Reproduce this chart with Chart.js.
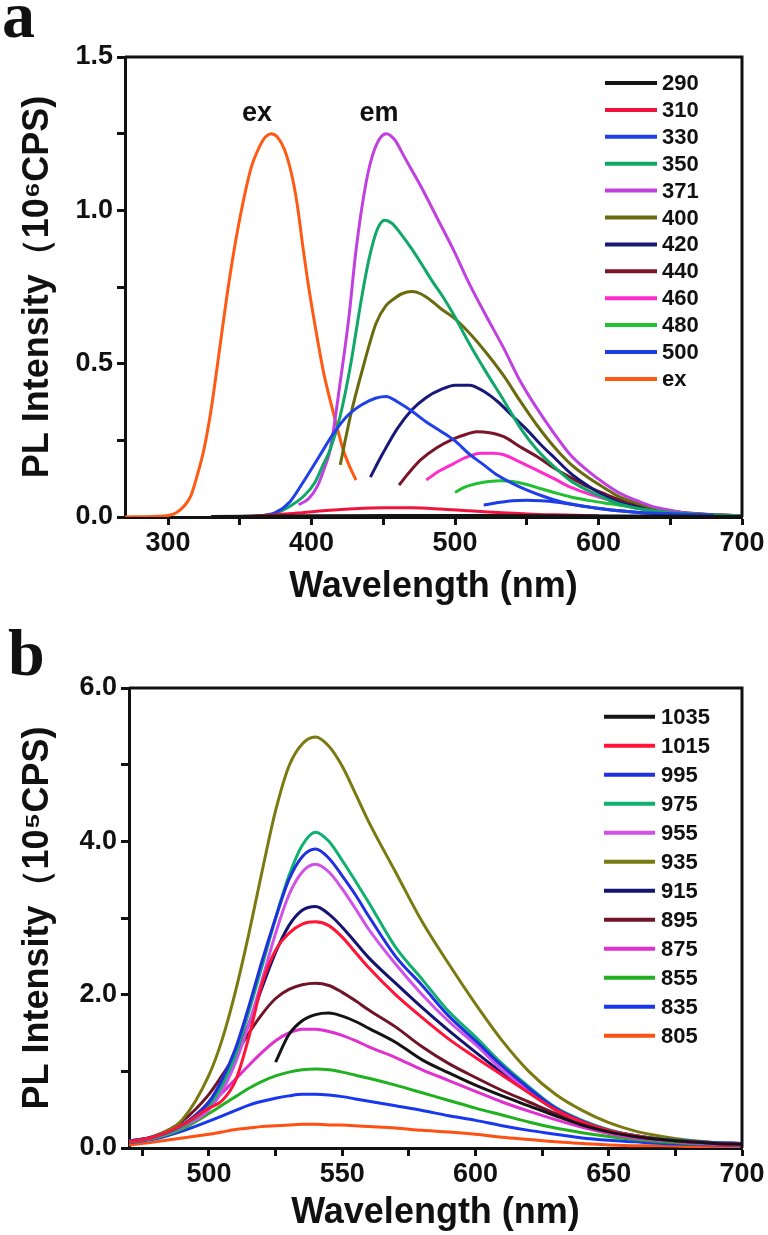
<!DOCTYPE html>
<html lang="en">
<head>
<meta charset="UTF-8">
<title>PL spectra</title>
<script src="https://cdn.jsdelivr.net/npm/chart.js"></script>
<style>
    body {
        margin: 0;
        background: #fff;
        width: 768px;
        height: 1235px;
        position: relative;
        overflow: hidden;
    }
    canvas {
        position: absolute;
        left: 0;
    }
    #chartA { top: 0; }
    #chartB { top: 615px; }
</style>
</head>
<body>
<canvas id="chartA" width="768" height="615"></canvas>
<canvas id="chartB" width="768" height="620"></canvas>

<script>
// ---------- Panel a : [wavelength nm, intensity 10^6 CPS] ----------
const a290 = [[330,0.002],[400,0.004],[460,0.005],[520,0.005],[580,0.004],[640,0.003],[700,0.002]];
const a310 = [[330,0],[350,0.002],[370,0.006],[390,0.013],[410,0.021],[430,0.027],[450,0.03],[470,0.03],[490,0.026],[510,0.02],[530,0.015],[550,0.01],[570,0.007],[600,0.004]];
const a330 = [[350,0],[365,0.004],[375,0.015],[385,0.05],[395,0.12],[405,0.195],[415,0.27],[425,0.33],[435,0.366],[445,0.388],[452,0.393],[460,0.375],[470,0.345],[480,0.31],[490,0.28],[500,0.248],[510,0.205],[520,0.17],[530,0.135],[545,0.098],[560,0.07],[575,0.048],[590,0.035],[610,0.022],[640,0.012],[680,0.007]];
const a350 = [[350,0],[365,0.004],[375,0.012],[385,0.035],[395,0.07],[402,0.11],[408,0.17],[413,0.22],[420,0.33],[427,0.49],[434,0.69],[440,0.84],[446,0.94],[451,0.968],[456,0.958],[462,0.925],[469,0.88],[476,0.83],[484,0.77],[492,0.715],[499,0.66],[510,0.565],[522,0.47],[534,0.38],[545,0.294],[557,0.22],[569,0.164],[580,0.12],[592,0.088],[604,0.062],[615,0.042],[630,0.026],[650,0.015],[675,0.008],[700,0.004]];
const a371 = [[391,0.04],[398,0.06],[404,0.1],[409,0.16],[413,0.22],[420,0.44],[426,0.65],[431,0.87],[438,1.09],[444,1.2],[452,1.25],[458,1.23],[464,1.18],[470,1.13],[476,1.08],[487,0.98],[499,0.87],[510,0.76],[522,0.653],[534,0.55],[545,0.447],[557,0.355],[569,0.273],[580,0.205],[592,0.153],[604,0.11],[615,0.077],[627,0.053],[638,0.034],[650,0.022],[662,0.012],[680,0.007],[700,0.004]];
const a400 = [[420,0.17],[427,0.327],[436,0.49],[445,0.632],[452,0.69],[457,0.71],[463,0.728],[470,0.735],[476,0.728],[483,0.707],[490,0.68],[499,0.65],[510,0.6],[522,0.534],[534,0.46],[545,0.381],[557,0.3],[569,0.229],[580,0.175],[592,0.131],[604,0.095],[615,0.065],[627,0.045],[638,0.03],[650,0.02],[662,0.012],[680,0.007],[700,0.004]];
const a420 = [[441,0.13],[450,0.21],[460,0.29],[470,0.35],[480,0.39],[490,0.415],[500,0.43],[510,0.43],[520,0.41],[530,0.375],[540,0.33],[550,0.285],[560,0.235],[570,0.19],[580,0.145],[590,0.11],[600,0.08],[610,0.056],[620,0.04],[640,0.02],[660,0.01],[700,0.004]];
const a440 = [[461,0.104],[468,0.145],[476,0.186],[487,0.225],[499,0.255],[508,0.27],[515,0.278],[524,0.275],[534,0.262],[545,0.23],[557,0.197],[569,0.16],[580,0.13],[592,0.1],[604,0.076],[615,0.056],[627,0.04],[638,0.028],[650,0.02],[665,0.012],[680,0.007],[700,0.004]];
const a460 = [[480,0.121],[489,0.15],[499,0.174],[508,0.195],[518,0.208],[526,0.208],[534,0.203],[545,0.18],[557,0.153],[569,0.125],[580,0.098],[592,0.077],[604,0.06],[615,0.044],[627,0.03],[640,0.02],[655,0.012],[670,0.008],[690,0.005]];
const a480 = [[500,0.08],[506,0.096],[511,0.104],[520,0.113],[531,0.118],[540,0.116],[550,0.106],[560,0.092],[569,0.08],[580,0.066],[592,0.055],[604,0.046],[615,0.038],[627,0.028],[638,0.02],[650,0.014],[665,0.009],[680,0.006]];
const a500 = [[520,0.039],[530,0.047],[540,0.053],[550,0.055],[560,0.053],[570,0.049],[580,0.042],[592,0.033],[604,0.026],[615,0.02],[630,0.014],[650,0.009],[680,0.005]];
const aEx  = [[270,0],[290,0.002],[300,0.005],[306,0.015],[312,0.04],[316,0.07],[320,0.13],[325,0.22],[330,0.35],[336,0.55],[341,0.72],[346,0.87],[352,1.02],[358,1.14],[364,1.21],[368,1.24],[372,1.25],[376,1.24],[381,1.2],[386,1.12],[390,1.02],[394,0.88],[398,0.75],[403,0.61],[408,0.48],[413,0.38],[418,0.29],[422,0.22],[427,0.16],[431,0.12]];

const labelsA = ['290','310','330','350','371','400','420','440','460','480','500','ex'];
const seriesA = [a290, a310, a330, a350, a371, a400, a420, a440, a460, a480, a500, aEx];
const colorsA = ['#141414','#f0143c','#2040e8','#10a868','#c040e0','#6a6a0e','#18187a','#7a1428','#ff2ccc','#20c030','#1c3ce8','#ff5a14'];

// ---------- Panel b : intensity (10^5 CPS) on a shared wavelength grid ----------
const wlB = [470,480,490,500,505,510,515,520,525,530,535,540,545,550,555,560,570,580,590,600,610,620,630,640,650,660,670,680,690,700];
const b1035 = [null,null,null,null,null,null,null,null,1.12,1.48,1.66,1.74,1.76,1.72,1.65,1.56,1.38,1.15,0.98,0.82,0.68,0.55,0.42,0.30,0.21,0.15,0.11,0.08,0.06,0.05];
const b1015 = [0.08,0.15,0.30,0.52,0.62,0.88,1.45,2.15,2.58,2.80,2.92,2.95,2.90,2.75,2.55,2.35,2.00,1.70,1.42,1.18,0.95,0.72,0.50,0.34,0.23,0.16,0.11,0.08,0.06,0.05];
const b995  = [0.09,0.15,0.30,0.60,0.90,1.30,1.85,2.45,3.00,3.50,3.80,3.90,3.78,3.55,3.30,3.02,2.50,2.12,1.72,1.40,1.07,0.78,0.52,0.35,0.23,0.16,0.11,0.09,0.07,0.06];
const b975  = [0.09,0.14,0.28,0.55,0.82,1.22,1.78,2.38,3.00,3.55,3.95,4.12,4.00,3.75,3.48,3.20,2.62,2.20,1.78,1.45,1.10,0.80,0.53,0.36,0.24,0.16,0.12,0.09,0.07,0.06];
const b955  = [0.09,0.14,0.27,0.50,0.75,1.12,1.62,2.20,2.80,3.30,3.60,3.70,3.60,3.38,3.12,2.85,2.40,2.00,1.65,1.35,1.02,0.75,0.50,0.34,0.23,0.16,0.11,0.08,0.07,0.06];
const b935  = [0.07,0.16,0.37,0.95,1.42,2.05,2.80,3.62,4.40,4.98,5.27,5.36,5.24,4.98,4.62,4.25,3.60,2.95,2.40,1.88,1.40,1.00,0.70,0.49,0.33,0.22,0.15,0.10,0.07,0.05];
const b915  = [0.09,0.15,0.30,0.60,0.85,1.20,1.62,2.10,2.55,2.90,3.10,3.15,3.05,2.88,2.68,2.48,2.15,1.83,1.53,1.25,0.98,0.73,0.50,0.34,0.23,0.16,0.11,0.08,0.07,0.06];
const b895  = [0.08,0.16,0.35,0.70,0.95,1.22,1.50,1.75,1.95,2.07,2.13,2.15,2.12,2.03,1.92,1.80,1.58,1.32,1.10,0.92,0.75,0.60,0.45,0.32,0.22,0.15,0.11,0.08,0.06,0.05];
const b875  = [0.08,0.14,0.28,0.55,0.72,0.90,1.08,1.25,1.40,1.50,1.55,1.55,1.52,1.47,1.40,1.32,1.18,1.02,0.88,0.74,0.60,0.48,0.37,0.27,0.19,0.13,0.10,0.07,0.05,0.04];
const b855  = [0.08,0.13,0.25,0.45,0.56,0.67,0.78,0.87,0.94,0.99,1.02,1.03,1.02,0.99,0.95,0.91,0.82,0.72,0.62,0.52,0.43,0.34,0.26,0.20,0.15,0.11,0.08,0.06,0.05,0.04];
const b835  = [0.07,0.12,0.22,0.35,0.42,0.49,0.56,0.61,0.65,0.68,0.70,0.70,0.69,0.67,0.64,0.61,0.55,0.49,0.42,0.36,0.29,0.23,0.18,0.13,0.10,0.08,0.06,0.05,0.04,0.03];
const b805  = [0.04,0.08,0.13,0.18,0.21,0.24,0.26,0.28,0.29,0.30,0.31,0.31,0.30,0.30,0.29,0.28,0.26,0.23,0.21,0.18,0.14,0.11,0.08,0.06,0.04,0.03,0.03,0.02,0.02,0.02];

const labelsB = ['1035','1015','995','975','955','935','915','895','875','855','835','805'];
const seriesB = [b1035, b1015, b995, b975, b955, b935, b915, b895, b875, b855, b835, b805];
const colorsB = ['#141414','#ff1438','#2030e0','#10b070','#d050e8','#7a7a10','#141470','#701428','#e030d0','#20b020','#1838f0','#ff5014'];

const FONT = "'Liberation Sans', Arial, sans-serif";
Chart.defaults.font.family = FONT;
Chart.defaults.font.weight = 'bold';
Chart.defaults.color = '#111';

// legend drawn inside the plot, top right, like the original
const spectraLegend = {
    id: 'spectraLegend',
    afterDraw(chart, args, opts) {
        const ctx = chart.ctx;
        ctx.save();
        ctx.font = 'bold 22px ' + FONT;
        ctx.textBaseline = 'middle';
        chart.data.datasets.forEach((ds, i) => {
            const y = opts.top + i * opts.gap;
            ctx.strokeStyle = ds.borderColor;
            ctx.lineWidth = 4;
            ctx.beginPath();
            ctx.moveTo(opts.x0, y);
            ctx.lineTo(opts.x1, y);
            ctx.stroke();
            ctx.fillStyle = '#111';
            ctx.fillText(ds.label, opts.textX, y + 1);
        });
        ctx.restore();
    }
};

// top / right border of the frame, text notes and the panel letter
const frameAndNotes = {
    id: 'frameAndNotes',
    afterDraw(chart, args, opts) {
        const ctx = chart.ctx;
        const area = chart.chartArea;
        ctx.save();
        ctx.strokeStyle = '#111';
        ctx.lineWidth = 3;
        ctx.beginPath();
        ctx.moveTo(area.left, area.top);
        ctx.lineTo(area.right, area.top);
        ctx.lineTo(area.right, area.bottom);
        ctx.stroke();

        ctx.fillStyle = '#111';
        ctx.font = 'bold 27px ' + FONT;
        ctx.textAlign = 'center';
        ctx.textBaseline = 'middle';
        (opts.notes || []).forEach(n => {
            ctx.fillText(n.text, chart.scales.x.getPixelForValue(n.x), chart.scales.y.getPixelForValue(n.y));
        });

        ctx.font = "bold 66px 'Liberation Serif', 'Times New Roman', serif";
        ctx.textAlign = 'left';
        ctx.textBaseline = 'alphabetic';
        ctx.fillText(opts.tag, opts.tagX, opts.tagY);
        ctx.restore();
    }
};

function buildOptions(cfg) {
    const tickFont = { size: 27, weight: 'bold' };
    const titleFont = { size: 36, weight: 'bold', lineHeight: 1 };
    return {
        responsive: false,
        animation: false,
        layout: { padding: { left: 0, top: cfg.top, right: 26, bottom: 0 } },
        elements: {
            point: { radius: 0 },
            line: { borderWidth: 3, cubicInterpolationMode: 'monotone' }
        },
        plugins: {
            legend: { display: false },
            tooltip: { enabled: false },
            spectraLegend: cfg.legend,
            frameAndNotes: { notes: cfg.notes, tag: cfg.tag, tagX: cfg.tagX, tagY: cfg.tagY }
        },
        scales: {
            x: {
                type: 'linear',
                min: cfg.xMin,
                max: cfg.xMax,
                afterFit: s => { s.height = cfg.xHeight; },
                border: { color: '#111', width: 3 },
                grid: { drawOnChartArea: false, tickLength: 8, tickWidth: 3, tickColor: '#111' },
                ticks: {
                    stepSize: cfg.xStep,
                    includeBounds: false,
                    autoSkip: false,
                    maxRotation: 0,
                    padding: 2,
                    font: tickFont,
                    callback: v => (v % cfg.xLabelEvery === 0 ? String(v) : '')
                },
                title: { display: true, text: 'Wavelength (nm)', font: titleFont, padding: { top: 0, bottom: cfg.xTitlePad } }
            },
            y: {
                min: 0,
                max: cfg.yMax,
                afterFit: s => { s.width = cfg.yWidth; },
                border: { color: '#111', width: 3 },
                grid: { drawOnChartArea: false, tickLength: 8, tickWidth: 3, tickColor: '#111' },
                ticks: {
                    stepSize: cfg.yStep,
                    includeBounds: false,
                    autoSkip: false,
                    padding: 4,
                    font: tickFont,
                    callback: v => {
                        const k = v / cfg.yLabelEvery;
                        return Math.abs(k - Math.round(k)) < 1e-6 ? v.toFixed(1) : '';
                    }
                },
                title: { display: true, text: cfg.yTitle, font: titleFont, padding: { top: 20, bottom: 0 } }
            }
        }
    };
}

// Panel a
const dataA = {
    datasets: seriesA.map((pairs, i) => ({
        label: labelsA[i],
        data: pairs.map(p => ({ x: p[0], y: p[1] })),
        borderColor: colorsA[i],
        fill: false
    }))
};
new Chart(document.getElementById('chartA'), {
    type: 'line',
    data: dataA,
    options: buildOptions({
        top: 57, xHeight: 98, xTitlePad: 10, yWidth: 125,
        xMin: 270, xMax: 700, xStep: 50, xLabelEvery: 100,
        yMax: 1.5, yStep: 0.25, yLabelEvery: 0.5,
        yTitle: 'PL Intensity（10⁶CPS)',
        legend: { top: 83, gap: 26.9, x0: 605, x1: 657, textX: 662 },
        notes: [{ text: 'ex', x: 362, y: 1.317 }, { text: 'em', x: 447, y: 1.317 }],
        tag: 'a', tagX: 2, tagY: 37
    }),
    plugins: [spectraLegend, frameAndNotes]
});

// Panel b
const dataB = {
    datasets: seriesB.map((vals, i) => ({
        label: labelsB[i],
        data: wlB.map((x, j) => ({ x: x, y: vals[j] })).filter(p => p.y !== null),
        borderColor: colorsB[i],
        fill: false
    }))
};
new Chart(document.getElementById('chartB'), {
    type: 'line',
    data: dataB,
    options: buildOptions({
        top: 73, xHeight: 87, xTitlePad: 4, yWidth: 129,
        xMin: 470, xMax: 700, xStep: 25, xLabelEvery: 50,
        yMax: 6, yStep: 1, yLabelEvery: 2,
        yTitle: 'PL Intensity（10⁵CPS)',
        legend: { top: 101.7, gap: 29, x0: 604, x1: 655, textX: 661 },
        notes: [],
        tag: 'b', tagX: 8, tagY: 60
    }),
    plugins: [spectraLegend, frameAndNotes]
});
</script>
</body>
</html>
